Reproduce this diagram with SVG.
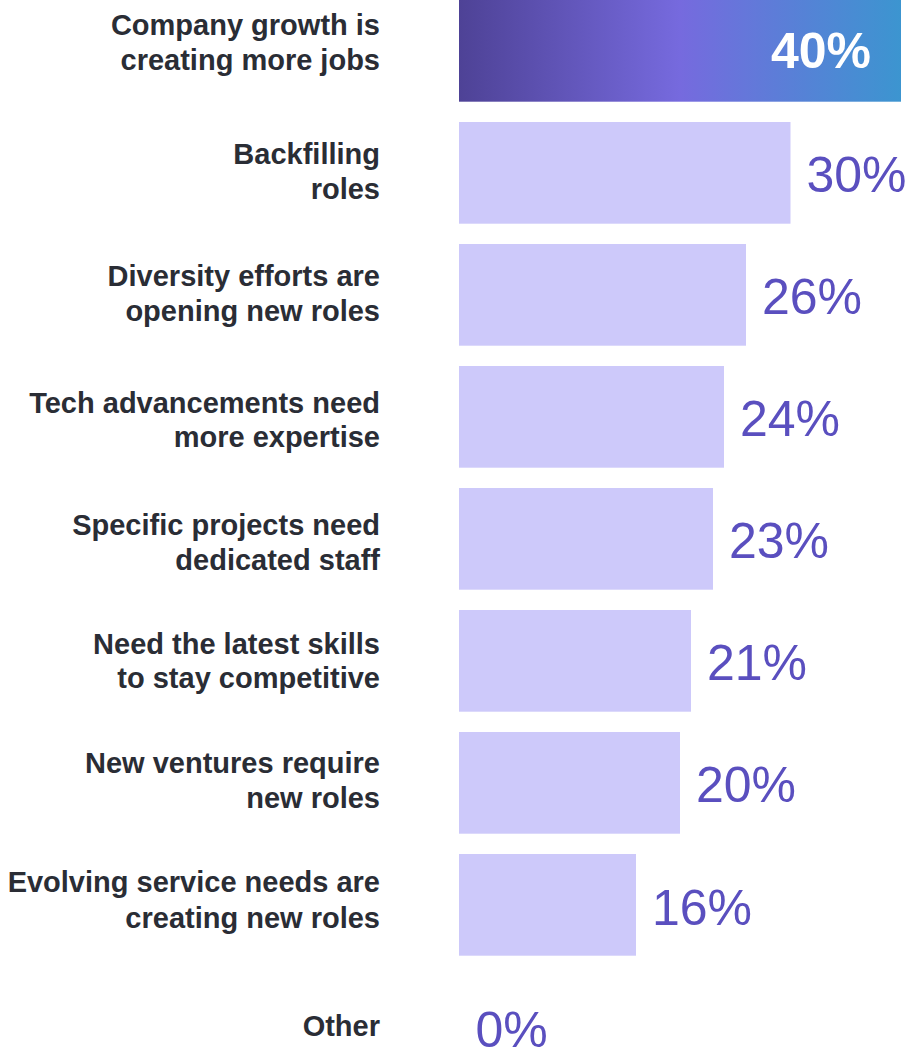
<svg xmlns="http://www.w3.org/2000/svg" width="909" height="1052" viewBox="0 0 909 1052">
  <defs>
    <linearGradient id="topGrad" x1="459" y1="0" x2="901" y2="0" gradientUnits="userSpaceOnUse">
      <stop offset="0" stop-color="#4e4296"/>
      <stop offset="0.5" stop-color="#766ade"/>
      <stop offset="1" stop-color="#3c95d0"/>
    </linearGradient>
  </defs>
  <style>
    .label { font-family: "Liberation Sans", Arial, sans-serif; font-weight: bold; font-size: 29px; fill: #2a2d35; text-anchor: end; }
    .bar { fill: #cdc9fa; }
    .val { font-family: "Liberation Sans", Arial, sans-serif; font-size: 50px; fill: #5a4fbf; }
    .valTop { font-family: "Liberation Sans", Arial, sans-serif; font-weight: bold; font-size: 50px; fill: #ffffff; text-anchor: end; }
  </style>
  <rect width="909" height="1052" fill="#ffffff"/>

  <g id="row-company-growth">
    <rect x="459" y="0" width="442" height="101.7" fill="url(#topGrad)"/>
    <text class="label" x="380" y="35"><tspan x="380">Company growth is</tspan><tspan x="380" y="70">creating more jobs</tspan></text>
    <text class="valTop" x="871" y="67.5">40%</text>
  </g>

  <g id="row-backfilling">
    <rect class="bar" x="459" y="122" width="331.5" height="101.7"/>
    <text class="label" x="380" y="164"><tspan x="380">Backfilling</tspan><tspan x="380" y="199">roles</tspan></text>
    <text class="val" x="806.5" y="192.3">30%</text>
  </g>

  <g id="row-diversity">
    <rect class="bar" x="459" y="244" width="287" height="101.7"/>
    <text class="label" x="380" y="286"><tspan x="380">Diversity efforts are</tspan><tspan x="380" y="321">opening new roles</tspan></text>
    <text class="val" x="762" y="314">26%</text>
  </g>

  <g id="row-tech">
    <rect class="bar" x="459" y="366" width="265" height="101.7"/>
    <text class="label" x="380" y="413"><tspan x="380">Tech advancements need</tspan><tspan x="380" y="447">more expertise</tspan></text>
    <text class="val" x="740" y="436">24%</text>
  </g>

  <g id="row-projects">
    <rect class="bar" x="459" y="488" width="254" height="101.7"/>
    <text class="label" x="380" y="535"><tspan x="380">Specific projects need</tspan><tspan x="380" y="570">dedicated staff</tspan></text>
    <text class="val" x="729" y="558">23%</text>
  </g>

  <g id="row-skills">
    <rect class="bar" x="459" y="610" width="232" height="101.7"/>
    <text class="label" x="380" y="654"><tspan x="380">Need the latest skills</tspan><tspan x="380" y="688">to stay competitive</tspan></text>
    <text class="val" x="707" y="680">21%</text>
  </g>

  <g id="row-ventures">
    <rect class="bar" x="459" y="732" width="221" height="101.7"/>
    <text class="label" x="380" y="773"><tspan x="380">New ventures require</tspan><tspan x="380" y="808">new roles</tspan></text>
    <text class="val" x="696" y="802">20%</text>
  </g>

  <g id="row-service">
    <rect class="bar" x="459" y="854" width="177" height="101.7"/>
    <text class="label" x="380" y="892"><tspan x="380">Evolving service needs are</tspan><tspan x="380" y="928">creating new roles</tspan></text>
    <text class="val" x="652" y="924.5">16%</text>
  </g>

  <g id="row-other">
    <text class="label" x="380" y="1036">Other</text>
    <text class="val" x="475.5" y="1047">0%</text>
  </g>

  <g id="connectors"></g>
</svg>
